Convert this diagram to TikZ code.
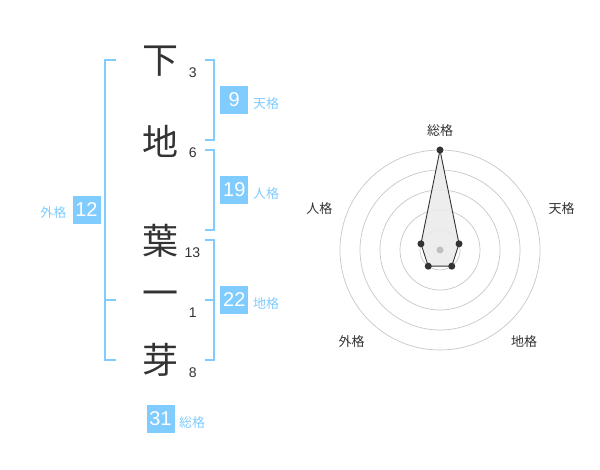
\documentclass[tikz,border=0pt]{standalone}
\usepackage{fontspec}
\setmainfont{Noto Sans CJK JP}
\newfontfamily\numf{Liberation Sans}
\definecolor{kblue}{HTML}{80CCFF}
\definecolor{kdark}{HTML}{333333}
\begin{document}
\begin{tikzpicture}[x=1pt,y=-1pt,
 kanji/.style={font=\fontsize{36}{36}\selectfont, text=kdark, inner sep=0pt},
 strokenum/.style={font=\numf\fontsize{14}{14}\selectfont, text=kdark, inner sep=0pt},
 kakubox/.style={fill=kblue, text=white, minimum width=28pt, minimum height=28pt, inner sep=0pt, font=\numf\fontsize{20}{20}\selectfont},
 kakulabel/.style={text=kblue, font=\fontsize{13}{13}\selectfont, inner sep=0pt},
 bracket/.style={draw=kblue, line width=2pt},
 radlabel/.style={text=kdark, font=\fontsize{13}{13}\selectfont, inner sep=0pt},
 ring/.style={draw=black!22, line width=0.7pt},
 vdot/.style={circle, fill=kdark, minimum size=7pt, inner sep=0pt}]
\useasboundingbox (0,0) rectangle (600,470);
% characters
\node[kanji] (c1) at (160,61) {下};
\node[kanji] (c2) at (160,141) {地};
\node[kanji] (c3) at (160,241) {葉};
\node[kanji] (c4) at (160,299) {一};
\node[kanji] (c5) at (160,360) {芽};
\node[strokenum] (n1) at (192.7,73) {3};
\node[strokenum] (n2) at (192.7,153) {6};
\node[strokenum] (n3) at (192.5,252.5) {13};
\node[strokenum] (n4) at (192.7,313) {1};
\node[strokenum] (n5) at (192.7,373) {8};
% brackets
\draw[bracket] (116,60) -- (105,60) -- (105,360) -- (116,360);
\draw[bracket] (105,300) -- (116,300);
\draw[bracket] (205,60) -- (214,60) -- (214,140) -- (205,140);
\draw[bracket] (205,150) -- (214,150) -- (214,230) -- (205,230);
\draw[bracket] (205,240) -- (214,240) -- (214,360) -- (205,360);
\draw[bracket] (205,300) -- (214,300);
% boxes
\node[kakubox] (gai) at (86.5,210) {12};
\node[kakulabel] (gail) at (53.3,213) {外格};
\node[kakubox] (ten) at (234.3,100) {9};
\node[kakulabel] (tenl) at (266,103.5) {天格};
\node[kakubox] (jin) at (234.3,190) {19};
\node[kakulabel] (jinl) at (266,193.5) {人格};
\node[kakubox] (chi) at (234.3,300) {22};
\node[kakulabel] (chil) at (266,303.5) {地格};
\node[kakubox] (sou) at (160.5,419) {31};
\node[kakulabel] (soul) at (192,422.5) {総格};
% radar
\coordinate (ctr) at (440,250);
\foreach \r in {20,40,60,80,100} \draw[ring] (ctr) circle[radius=\r];
\coordinate (pS) at (440,150);
\coordinate (pT) at (459.02,243.82);
\coordinate (pC) at (451.76,266.18);
\coordinate (pG) at (428.24,266.18);
\coordinate (pJ) at (420.98,243.82);
\fill[black!8, opacity=0.9] (pS) -- (pT) -- (pC) -- (pG) -- (pJ) -- cycle;
\node[circle, fill=black!25, minimum size=7pt, inner sep=0pt] (cdot) at (ctr) {};
\draw[kdark, line width=0.9pt] (pS) -- (pT) -- (pC) -- (pG) -- (pJ) -- cycle;
\foreach \p in {pS,pT,pC,pG,pJ} \node[vdot] (d\p) at (\p) {};
\node[radlabel] (rS) at (440,130.5) {総格};
\node[radlabel] (rT) at (561.7,208.3) {天格};
\node[radlabel] (rC) at (524,341.7) {地格};
\node[radlabel] (rG) at (351.7,341.7) {外格};
\node[radlabel] (rJ) at (319.3,208.3) {人格};
\end{tikzpicture}
\end{document}
